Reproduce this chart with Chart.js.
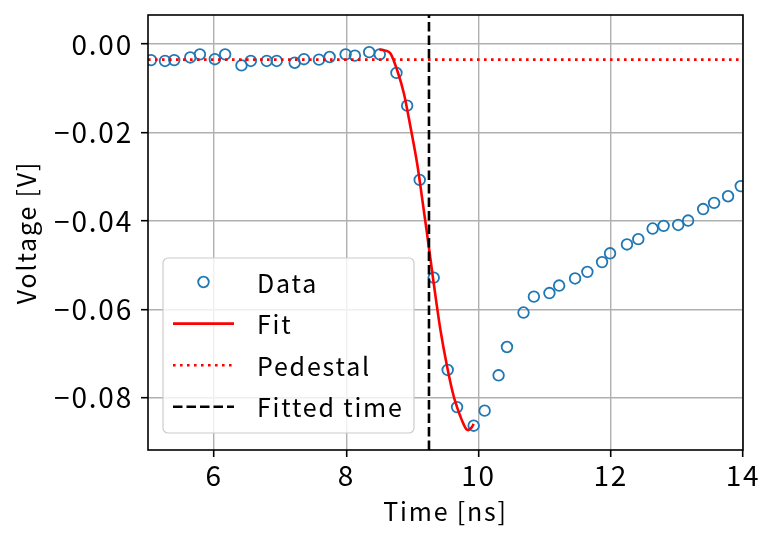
<!DOCTYPE html>
<html>
<head>
<meta charset="utf-8">
<script src="https://cdn.jsdelivr.net/npm/chart.js@4"></script>
<style>
  html, body { margin: 0; padding: 0; background: #fff; }
  #wrap { width: 777px; height: 543px; }
</style>
</head>
<body>
<div id="wrap"><canvas id="c" width="777" height="543"></canvas></div>
<script>
// ---- data ----
const dataTime = [5.045, 5.257, 5.397, 5.639, 5.785, 6.011, 6.167, 6.414, 6.555, 6.796, 6.947, 7.219, 7.359, 7.586, 7.747, 7.989, 8.129, 8.346, 8.506, 8.758, 8.920, 9.110, 9.322, 9.533, 9.675, 9.926, 10.092, 10.303, 10.430, 10.680, 10.837, 11.072, 11.219, 11.460, 11.646, 11.868, 11.989, 12.245, 12.416, 12.633, 12.799, 13.020, 13.170, 13.397, 13.563, 13.774, 13.966];
const dataVoltage = [-0.0036, -0.0038, -0.0036, -0.0030, -0.0023, -0.0034, -0.0023, -0.0048, -0.0038, -0.0038, -0.0038, -0.0042, -0.0034, -0.0035, -0.0029, -0.0023, -0.0026, -0.0018, -0.0023, -0.0065, -0.0139, -0.0307, -0.0528, -0.0737, -0.0821, -0.0863, -0.0829, -0.0749, -0.0685, -0.0607, -0.0571, -0.0563, -0.0546, -0.0530, -0.0515, -0.0493, -0.0473, -0.0453, -0.0441, -0.0417, -0.0411, -0.0409, -0.0399, -0.0373, -0.0359, -0.0344, -0.0321];
const fitTime = [8.50, 8.58, 8.668, 8.769, 8.87, 8.97, 9.071, 9.171, 9.22, 9.322, 9.423, 9.524, 9.625, 9.725, 9.775, 9.815, 9.845, 9.875, 9.90, 9.926];
const fitVoltage = [-0.0012, -0.0014, -0.0021, -0.0059, -0.0111, -0.0187, -0.0270, -0.0375, -0.0428, -0.0541, -0.0646, -0.0729, -0.0797, -0.0842, -0.0860, -0.0871, -0.0873, -0.0870, -0.0866, -0.0859];
const pedestalLevel = -0.0035;
const fittedTime = 9.25;
const xRange = [5, 14];
const yRange = [-0.0918, 0.0066];
const xTicks = [6, 8, 10, 12, 14];
const yTicks = [0.00, -0.02, -0.04, -0.06, -0.08];
const legendLabels = ['Data', 'Fit', 'Pedestal', 'Fitted time'];

const FONT = '"Noto Sans CJK JP", "Noto Sans", sans-serif';
const TICK_SIZE = 28;
const LABEL_SIZE = 25;
const SPACING = '1.8px';
const BLUE = '#1f77b4';

const datasets = [
  {
    label: legendLabels[0],
    data: dataTime.map((t, i) => ({x: t, y: dataVoltage[i]})),
    showLine: false,
    pointStyle: 'circle',
    pointRadius: 5.3,
    pointBorderWidth: 1.8,
    pointBorderColor: BLUE,
    pointBackgroundColor: 'rgba(0,0,0,0)',
    borderColor: BLUE,
    order: 4
  },
  {
    label: legendLabels[1],
    data: fitTime.map((t, i) => ({x: t, y: fitVoltage[i]})),
    showLine: true,
    borderColor: '#ff0000',
    borderWidth: 2.6,
    pointRadius: 0,
    cubicInterpolationMode: 'monotone',
    order: 3
  },
  {
    label: legendLabels[2],
    data: [{x: xRange[0], y: pedestalLevel}, {x: xRange[1], y: pedestalLevel}],
    showLine: true,
    borderColor: '#ff0000',
    borderWidth: 2.6,
    borderDash: [2.6, 4.4],
    pointRadius: 0,
    order: 2
  },
  {
    label: legendLabels[3],
    data: [{x: fittedTime, y: yRange[0]}, {x: fittedTime, y: yRange[1]}],
    showLine: true,
    borderColor: '#000000',
    borderWidth: 2.6,
    borderDash: [9.5, 4],
    pointRadius: 0,
    order: 1
  }
];

function spacing(chart) { chart.ctx.letterSpacing = SPACING; }
const spacingPlugin = {
  id: 'spacing',
  beforeUpdate: spacing,
  beforeLayout: spacing,
  beforeDraw: spacing
};

const framePlugin = {
  id: 'frame',
  afterDatasetsDraw(chart) {
    const {ctx, chartArea: a} = chart;
    ctx.save();
    ctx.strokeStyle = '#000';
    ctx.lineWidth = 1.6;
    ctx.strokeRect(a.left, a.top, a.right - a.left, a.bottom - a.top);
    ctx.restore();
  }
};

const legendPlugin = {
  id: 'mplLegend',
  afterDraw(chart) {
    const {ctx, chartArea: a} = chart;
    const x0 = a.left + 15, y0 = a.bottom - 192, w = 251, h = 175, r = 5;
    ctx.save();
    ctx.letterSpacing = SPACING;
    ctx.beginPath();
    ctx.moveTo(x0 + r, y0);
    ctx.arcTo(x0 + w, y0, x0 + w, y0 + h, r);
    ctx.arcTo(x0 + w, y0 + h, x0, y0 + h, r);
    ctx.arcTo(x0, y0 + h, x0, y0, r);
    ctx.arcTo(x0, y0, x0 + w, y0, r);
    ctx.closePath();
    ctx.fillStyle = 'rgba(255,255,255,0.8)';
    ctx.fill();
    ctx.strokeStyle = '#cccccc';
    ctx.lineWidth = 1.2;
    ctx.stroke();
    const rowH = 41.6;
    chart.data.datasets.forEach((ds, i) => {
      const cy = y0 + 24 + i * rowH;
      const lx0 = x0 + 10, lx1 = x0 + 71;
      if (i === 0) {
        ctx.beginPath();
        ctx.setLineDash([]);
        ctx.arc((lx0 + lx1) / 2, cy, ds.pointRadius, 0, Math.PI * 2);
        ctx.strokeStyle = ds.pointBorderColor;
        ctx.lineWidth = ds.pointBorderWidth;
        ctx.stroke();
      } else {
        ctx.beginPath();
        ctx.setLineDash(ds.borderDash || []);
        ctx.moveTo(lx0, cy);
        ctx.lineTo(lx1, cy);
        ctx.strokeStyle = ds.borderColor;
        ctx.lineWidth = ds.borderWidth;
        ctx.stroke();
        ctx.setLineDash([]);
      }
      ctx.fillStyle = '#000';
      ctx.font = LABEL_SIZE + 'px ' + FONT;
      ctx.textBaseline = 'middle';
      ctx.textAlign = 'left';
      ctx.fillText(ds.label, x0 + 94, cy + 1);
    });
    ctx.restore();
  }
};

new Chart(document.getElementById('c'), {
  type: 'scatter',
  data: { datasets },
  options: {
    responsive: false,
    animation: false,
    devicePixelRatio: 1,
    layout: { padding: { top: 15, right: 34, left: 0, bottom: 0 } },
    plugins: { legend: { display: false }, tooltip: { enabled: false } },
    scales: {
      x: {
        type: 'linear',
        min: xRange[0], max: xRange[1],
        afterBuildTicks(s) { s.ticks = xTicks.map(v => ({value: v})); },
        afterFit(s) { s.height = 93; s.paddingLeft = 0; s.paddingRight = 0; },
        grid: { color: '#b0b0b0', lineWidth: 1.4, tickColor: '#000', tickLength: 7, tickWidth: 1.6, drawTicks: true },
        border: { display: false },
        ticks: { color: '#000', font: { family: FONT, size: TICK_SIZE }, padding: 2, maxRotation: 0, autoSkip: false,
                 callback: v => String(v) },
        title: { display: true, text: 'Time [ns]', color: '#000', font: { family: FONT, size: LABEL_SIZE }, padding: { top: 0, bottom: 17 } }
      },
      y: {
        type: 'linear',
        min: yRange[0], max: yRange[1],
        afterBuildTicks(s) { s.ticks = yTicks.map(v => ({value: v})); },
        afterFit(s) { s.width = 148; s.paddingTop = 0; s.paddingBottom = 0; },
        grid: { color: '#b0b0b0', lineWidth: 1.4, tickColor: '#000', tickLength: 7, tickWidth: 1.6, drawTicks: true },
        border: { display: false },
        ticks: { color: '#000', font: { family: FONT, size: TICK_SIZE }, padding: 8, autoSkip: false,
                 callback: v => (Math.abs(v) < 1e-9 ? '0.00' : (v < 0 ? '\u2212' : '') + Math.abs(v).toFixed(2)) },
        title: { display: true, text: 'Voltage [V]', color: '#000', font: { family: FONT, size: LABEL_SIZE }, padding: { top: 11, bottom: 0 } }
      }
    }
  },
  plugins: [spacingPlugin, framePlugin, legendPlugin]
});
</script>
</body>
</html>
